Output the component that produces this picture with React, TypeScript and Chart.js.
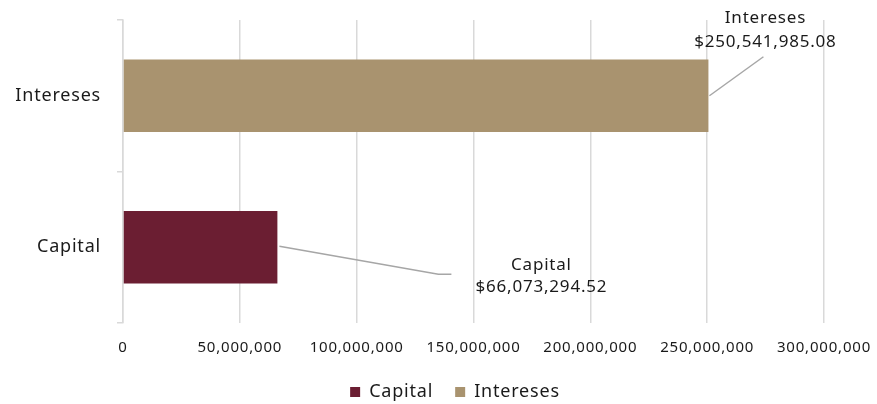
import React, { useEffect, useRef } from "react";
import { Chart, registerables } from "chart.js";

Chart.register(...registerables);

const categories = ["Intereses", "Capital"];
const seriesNames = ["Capital", "Intereses"];
const capitalValues = [null, 66073294.52];
const interesesValues = [250541985.08, null];
const labelTitles = ["Intereses", "Capital"];
const labelAmounts = ["$250,541,985.08", "$66,073,294.52"];
const xTicks = [0, 50000000, 100000000, 150000000, 200000000, 250000000, 300000000];

const COLORS = { capital: "#6B1E32", intereses: "#A9936F", grid: "#D9D9D9", text: "#1A1A1A", leader: "#A6A6A6" };
const FONT = "'Noto Sans', sans-serif";
const SPACING = "0.8px";
const LEGEND_SHIFT = 43;

const fmt = (v: number) => v.toLocaleString("en-US");

const spacingPlugin = {
  id: "spacing",
  beforeLayout(chart: any) { chart.ctx.letterSpacing = SPACING; },
  afterLayout(chart: any) {
    if (chart.legend) {
      chart.legend.left += LEGEND_SHIFT;
      chart.legend.right += LEGEND_SHIFT;
    }
  },
  beforeDraw(chart: any) { chart.ctx.letterSpacing = SPACING; },
};

const labelPlugin = {
  id: "calloutLabels",
  afterDatasetsDraw(chart: any) {
    const ctx = chart.ctx;
    ctx.save();
    ctx.letterSpacing = SPACING;
    ctx.font = `17px ${FONT}`;
    ctx.fillStyle = COLORS.text;
    ctx.strokeStyle = COLORS.leader;
    ctx.lineWidth = 1.5;
    ctx.textAlign = "center";
    ctx.textBaseline = "middle";
    const bi = chart.getDatasetMeta(1).data[0];
    if (bi) {
      const x = bi.x, y = bi.y;
      ctx.beginPath();
      ctx.moveTo(x + 1, y);
      ctx.lineTo(x + 55, y - 39);
      ctx.stroke();
      ctx.fillText(labelTitles[0], x + 57, y - 78);
      ctx.fillText(labelAmounts[0], x + 57, y - 54);
    }
    const bc = chart.getDatasetMeta(0).data[1];
    if (bc) {
      const x = bc.x, y = bc.y;
      ctx.beginPath();
      ctx.moveTo(x + 2, y - 1);
      ctx.lineTo(x + 161, y + 27);
      ctx.lineTo(x + 174, y + 27);
      ctx.stroke();
      ctx.fillText(labelTitles[1], x + 264, y + 18);
      ctx.fillText(labelAmounts[1], x + 264, y + 40);
    }
    ctx.restore();
  },
};

export default function App() {
  const ref = useRef<HTMLCanvasElement>(null);
  useEffect(() => {
    const chart = new Chart(ref.current!, {
      type: "bar",
      data: {
        labels: categories,
        datasets: [
          { label: seriesNames[0], data: capitalValues as any, backgroundColor: COLORS.capital, borderWidth: 0, barPercentage: 0.96, categoryPercentage: 0.5, skipNull: true } as any,
          { label: seriesNames[1], data: interesesValues as any, backgroundColor: COLORS.intereses, borderWidth: 0, barPercentage: 0.96, categoryPercentage: 0.5, skipNull: true } as any,
        ],
      },
      options: {
        indexAxis: "y",
        animation: false,
        responsive: false,
        layout: { padding: { left: 0, right: 53, top: 20, bottom: -7 } },
        scales: {
          x: {
            min: 0,
            max: 300000000,
            afterBuildTicks: (s: any) => { s.ticks = xTicks.map((v) => ({ value: v })); },
            afterFit: (s: any) => { s.height = 38; s.paddingLeft = 0; s.paddingRight = 0; },
            grid: { color: COLORS.grid, lineWidth: 1.5, drawTicks: false },
            border: { display: false },
            ticks: { padding: 16, color: COLORS.text, font: { family: FONT, size: 15 }, callback: (v: any) => fmt(Number(v)), maxRotation: 0 },
          },
          y: {
            afterFit: (s: any) => { s.width = 123; s.paddingTop = 0; s.paddingBottom = 0; },
            grid: { offset: true, drawOnChartArea: false, tickLength: 6, color: COLORS.grid, lineWidth: 1.5 },
            border: { display: true, color: COLORS.grid, width: 1.5 },
            ticks: { padding: 16, color: COLORS.text, font: { family: FONT, size: 18 } },
          },
        },
        plugins: {
          legend: {
            position: "bottom",
            labels: { boxWidth: 10, boxHeight: 10, padding: 22, color: COLORS.text, font: { family: FONT, size: 18 } },
          },
          tooltip: { enabled: false },
        },
      },
      plugins: [spacingPlugin, labelPlugin],
    });
    return () => chart.destroy();
  }, []);
  return (
    <div style={{ position: "fixed", left: 0, top: 0, width: 877, height: 404, background: "#fff" }}>
      <canvas ref={ref} width={877} height={404} />
    </div>
  );
}
